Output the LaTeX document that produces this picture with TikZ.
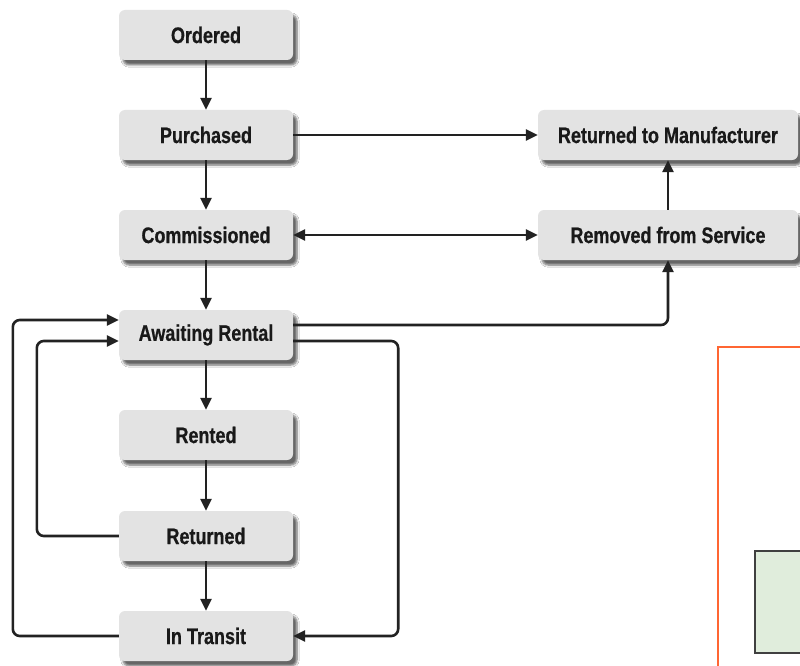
\documentclass[tikz,border=0pt]{standalone}
\usepackage{fontspec}
\setmainfont{Liberation Sans}
\newfontfamily\statefont{Liberation Sans}[FakeStretch=0.8, FakeBold=0.6]
\usetikzlibrary{arrows.meta,shadows.blur}

\definecolor{boxgray}{HTML}{E3E3E3}
\definecolor{inkgray}{HTML}{222222}
\definecolor{frameorange}{HTML}{FF6633}
\definecolor{notegreen}{HTML}{E0EDDC}

\begin{document}
\begin{tikzpicture}[x=1pt,y=-1pt,
  state/.style={fill=boxgray, rounded corners=6pt, minimum height=50pt,
    inner sep=0pt, text=black!90,
    font=\statefont\fontsize{22.5}{24}\selectfont\bfseries,
    blur shadow={shadow xshift=4pt, shadow yshift=-5pt,
      shadow blur steps=6, shadow opacity=60}},
  leftstate/.style={state, minimum width=174pt},
  rightstate/.style={state, minimum width=260pt},
  tip/.tip={Triangle[length=12pt,width=11pt]},
  flow/.style={line width=2.6pt, draw=inkgray, -tip, rounded corners=7pt}]

\useasboundingbox (0,0) rectangle (800,666);
\fill[white] (0,0) rectangle (800,666);

% lifecycle states, left column
\node[leftstate] (ord) at (206,35)  {Ordered};
\node[leftstate] (pur) at (206,135) {Purchased};
\node[leftstate] (com) at (206,235) {Commissioned};
\node[leftstate] (aw)  at (206,335) {Awaiting Rental};
\node[leftstate] (ren) at (206,435) {Rented};
\node[leftstate] (ret) at (206,536) {Returned};
\node[leftstate] (tr)  at (206,636) {In Transit};

% end-of-life states, right column
\node[rightstate] (rtm) at (668,135) {Returned to Manufacturer};
\node[rightstate] (rfs) at (668,235) {Removed from Service};

% main vertical flow
\draw[flow] (ord) -- (pur);
\draw[flow] (pur) -- (com);
\draw[flow] (com) -- (aw);
\draw[flow] (aw) -- (ren);
\draw[flow] (ren) -- (ret);
\draw[flow] (ret) -- (tr);

% transitions to the right column
\draw[flow] (pur.east) -- (rtm.west);
\draw[flow, tip-tip] (com.east) -- (rfs.west);
\draw[flow] (rfs) -- (rtm);
\draw[flow] ([yshift=10pt]aw.east) -| (rfs.south);

% rental loops
\draw[flow] ([yshift=-6pt]aw.east) -- ++(105,0) |- (tr.east);
\draw[flow] (ret.west) -- ++(-82,0) |- ([yshift=-6pt]aw.west);
\draw[flow] (tr.west) -- ++(-106,0) |- ([yshift=15pt]aw.west);

% framed panel at the lower right
\draw[frameorange, line width=1.5pt] (718,347) rectangle (830,700);
\draw[black!75, line width=1.5pt, fill=notegreen] (755,551) rectangle (840,653);
\end{tikzpicture}
\end{document}
